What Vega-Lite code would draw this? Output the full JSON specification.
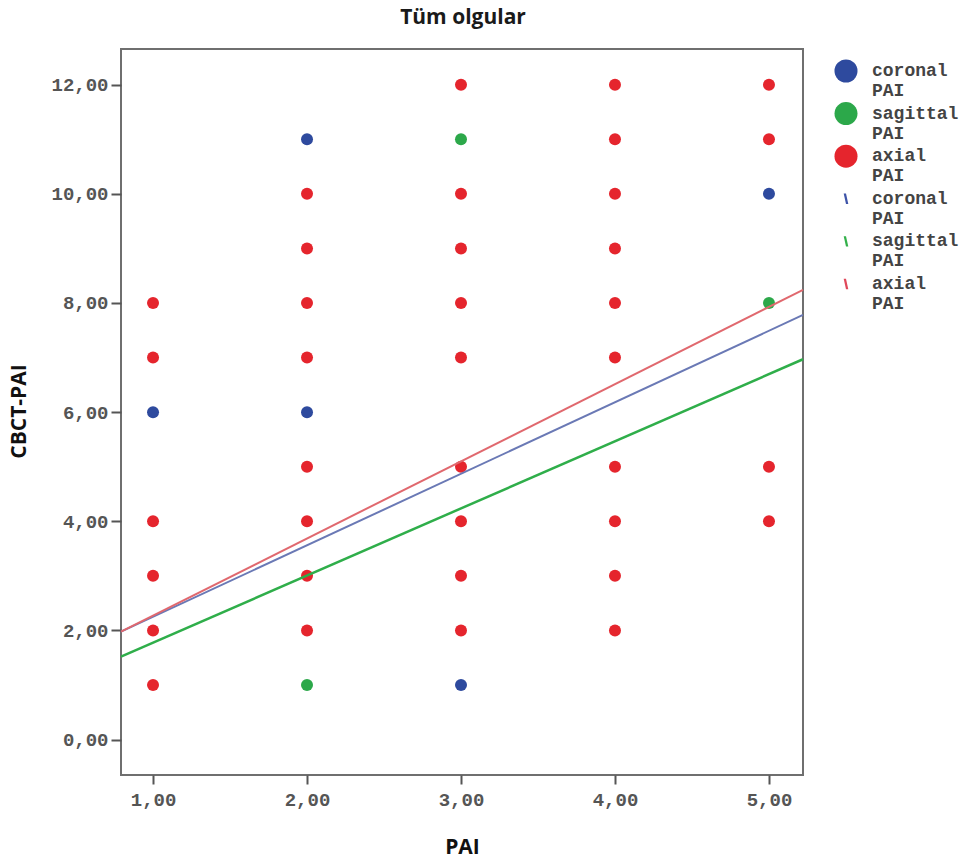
{
  "$schema": "https://vega.github.io/schema/vega-lite/v6.json",
  "width": 682,
  "height": 726,
  "autosize": {"type": "none"},
  "padding": {"left": 121, "top": 49, "right": 169, "bottom": 91},
  "background": "white",
  "title": {"text": "Tüm olgular", "font": "Open Sans", "fontSize": 21, "fontWeight": "bold", "color": "#1a1a1a", "anchor": "middle", "frame": "group", "offset": 21, "dx": 1},
  "config": {"view": {"stroke": "#6f6f6f", "strokeWidth": 2}},
  "datasets": {
    "points": [
      {"PAI": 1, "CBCT": 6, "group": "coronal_pt"},
      {"PAI": 2, "CBCT": 11, "group": "coronal_pt"},
      {"PAI": 2, "CBCT": 6, "group": "coronal_pt"},
      {"PAI": 3, "CBCT": 1, "group": "coronal_pt"},
      {"PAI": 5, "CBCT": 10, "group": "coronal_pt"},
      {"PAI": 2, "CBCT": 1, "group": "sagittal_pt"},
      {"PAI": 3, "CBCT": 11, "group": "sagittal_pt"},
      {"PAI": 5, "CBCT": 8, "group": "sagittal_pt"},
      {"PAI": 1, "CBCT": 8, "group": "axial_pt"},
      {"PAI": 1, "CBCT": 7, "group": "axial_pt"},
      {"PAI": 1, "CBCT": 4, "group": "axial_pt"},
      {"PAI": 1, "CBCT": 3, "group": "axial_pt"},
      {"PAI": 1, "CBCT": 2, "group": "axial_pt"},
      {"PAI": 1, "CBCT": 1, "group": "axial_pt"},
      {"PAI": 2, "CBCT": 10, "group": "axial_pt"},
      {"PAI": 2, "CBCT": 9, "group": "axial_pt"},
      {"PAI": 2, "CBCT": 8, "group": "axial_pt"},
      {"PAI": 2, "CBCT": 7, "group": "axial_pt"},
      {"PAI": 2, "CBCT": 5, "group": "axial_pt"},
      {"PAI": 2, "CBCT": 4, "group": "axial_pt"},
      {"PAI": 2, "CBCT": 3, "group": "axial_pt"},
      {"PAI": 2, "CBCT": 2, "group": "axial_pt"},
      {"PAI": 3, "CBCT": 12, "group": "axial_pt"},
      {"PAI": 3, "CBCT": 10, "group": "axial_pt"},
      {"PAI": 3, "CBCT": 9, "group": "axial_pt"},
      {"PAI": 3, "CBCT": 8, "group": "axial_pt"},
      {"PAI": 3, "CBCT": 7, "group": "axial_pt"},
      {"PAI": 3, "CBCT": 5, "group": "axial_pt"},
      {"PAI": 3, "CBCT": 4, "group": "axial_pt"},
      {"PAI": 3, "CBCT": 3, "group": "axial_pt"},
      {"PAI": 3, "CBCT": 2, "group": "axial_pt"},
      {"PAI": 4, "CBCT": 12, "group": "axial_pt"},
      {"PAI": 4, "CBCT": 11, "group": "axial_pt"},
      {"PAI": 4, "CBCT": 10, "group": "axial_pt"},
      {"PAI": 4, "CBCT": 9, "group": "axial_pt"},
      {"PAI": 4, "CBCT": 8, "group": "axial_pt"},
      {"PAI": 4, "CBCT": 7, "group": "axial_pt"},
      {"PAI": 4, "CBCT": 5, "group": "axial_pt"},
      {"PAI": 4, "CBCT": 4, "group": "axial_pt"},
      {"PAI": 4, "CBCT": 3, "group": "axial_pt"},
      {"PAI": 4, "CBCT": 2, "group": "axial_pt"},
      {"PAI": 5, "CBCT": 12, "group": "axial_pt"},
      {"PAI": 5, "CBCT": 11, "group": "axial_pt"},
      {"PAI": 5, "CBCT": 5, "group": "axial_pt"},
      {"PAI": 5, "CBCT": 4, "group": "axial_pt"}
    ],
    "lines": [
      {"PAI": 0.792, "CBCT": 1.977, "group": "coronal_ln"},
      {"PAI": 5.221, "CBCT": 7.781, "group": "coronal_ln"},
      {"PAI": 0.792, "CBCT": 1.519, "group": "sagittal_ln"},
      {"PAI": 5.221, "CBCT": 6.969, "group": "sagittal_ln"},
      {"PAI": 0.792, "CBCT": 1.977, "group": "axial_ln"},
      {"PAI": 5.221, "CBCT": 8.239, "group": "axial_ln"}
    ]
  },
  "encoding": {
    "x": {
      "field": "PAI", "type": "quantitative",
      "scale": {"domain": [0.792, 5.221], "nice": false, "zero": false},
      "axis": {
        "values": [1, 2, 3, 4, 5],
        "labelExpr": "replace(format(datum.value, '.2f'), '.', ',')",
        "grid": false, "domain": false,
        "tickSize": 9, "tickWidth": 2, "tickColor": "#555555",
        "labelFont": "Liberation Mono", "labelFontSize": 19, "labelFontWeight": "bold", "labelColor": "#555555", "labelPadding": 6,
        "title": "PAI", "titleFont": "Open Sans", "titleFontSize": 21, "titleFontWeight": "bold", "titleColor": "#111111",
        "titleX": 341, "titleY": 72, "titleBaseline": "middle", "titleAlign": "center"
      }
    },
    "y": {
      "field": "CBCT", "type": "quantitative",
      "scale": {"domain": [-0.649, 12.654], "nice": false, "zero": false},
      "axis": {
        "values": [0, 2, 4, 6, 8, 10, 12],
        "labelExpr": "replace(format(datum.value, '.2f'), '.', ',')",
        "grid": false, "domain": false,
        "tickSize": 10, "tickWidth": 2, "tickColor": "#555555",
        "labelFont": "Liberation Mono", "labelFontSize": 19, "labelFontWeight": "bold", "labelColor": "#555555", "labelPadding": 3,
        "title": "CBCT-PAI", "titleFont": "Open Sans", "titleFontSize": 21, "titleFontWeight": "bold", "titleColor": "#111111",
        "titleX": -102, "titleY": 362, "titleBaseline": "middle", "titleAlign": "center", "titleAngle": -90
      }
    }
  },
  "layer": [
    {
      "data": {"name": "points"},
      "mark": {"type": "point", "filled": true, "opacity": 1, "size": 144},
      "encoding": {
        "color": {
          "field": "group", "type": "nominal",
          "scale": {"domain": ["coronal_pt", "sagittal_pt", "axial_pt", "coronal_ln", "sagittal_ln", "axial_ln"],
                    "range": ["#2E4A9E", "#2CA84A", "#E5252D", "#3E54A8", "#33B04A", "#E0485A"]},
          "legend": {
            "title": null, "orient": "none", "legendX": 713, "legendY": 10, "padding": 0,
            "symbolSize": 530, "symbolStrokeWidth": 0,
            "labelFont": "Liberation Mono", "labelFontSize": 18, "labelFontWeight": "bold", "labelColor": "#444444",
            "labelExpr": "[split(datum.label, '_')[0], '\u2002PAI']",
            "rowPadding": 1.6, "labelOffset": 14
          }
        },
        "shape": {
          "field": "group", "type": "nominal",
          "scale": {"domain": ["coronal_pt", "sagittal_pt", "axial_pt", "coronal_ln", "sagittal_ln", "axial_ln"],
                    "range": ["circle", "circle", "circle", "M-0.2,-0.45L0,-0.45L0.2,0.45L0,0.45Z", "M-0.2,-0.45L0,-0.45L0.2,0.45L0,0.45Z", "M-0.2,-0.45L0,-0.45L0.2,0.45L0,0.45Z"]},
          "legend": {
            "title": null, "orient": "none", "legendX": 713, "legendY": 10, "padding": 0,
            "symbolSize": 530, "symbolStrokeWidth": 0,
            "labelFont": "Liberation Mono", "labelFontSize": 18, "labelFontWeight": "bold", "labelColor": "#444444",
            "labelExpr": "[split(datum.label, '_')[0], '\u2002PAI']",
            "rowPadding": 1.6, "labelOffset": 14
          }
        }
      }
    },
    {
      "data": {"name": "lines"},
      "transform": [{"filter": "datum.group == 'coronal_ln'"}],
      "mark": {"type": "line", "color": "#6A79B5", "strokeWidth": 2},
      "encoding": {}
    },
    {
      "data": {"name": "lines"},
      "transform": [{"filter": "datum.group == 'sagittal_ln'"}],
      "mark": {"type": "line", "color": "#2FAE4A", "strokeWidth": 2.5},
      "encoding": {}
    },
    {
      "data": {"name": "lines"},
      "transform": [{"filter": "datum.group == 'axial_ln'"}],
      "mark": {"type": "line", "color": "#E0686E", "strokeWidth": 2},
      "encoding": {}
    }
  ]
}
